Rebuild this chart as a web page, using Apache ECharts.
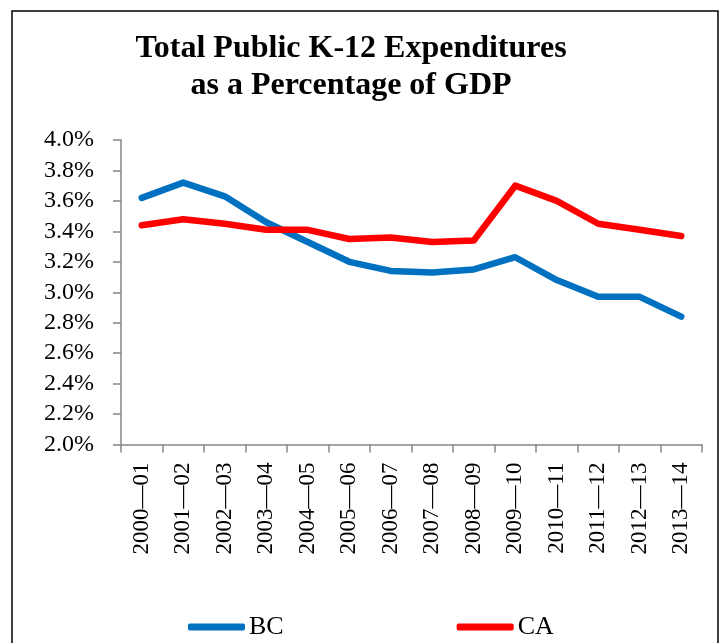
<!DOCTYPE html>
<html>
<head>
<meta charset="utf-8">
<script src="https://cdn.jsdelivr.net/npm/echarts@6/dist/echarts.min.js"></script>
<style>
  html, body { margin: 0; padding: 0; background: #fff; }
  #chart { width: 723px; height: 643px; }
</style>
</head>
<body>
<div id="chart"></div>
<script>
// School years on the horizontal axis
const years = ['2000—01', '2001—02', '2002—03', '2003—04', '2004—05', '2005—06', '2006—07',
               '2007—08', '2008—09', '2009—10', '2010—11', '2011—12', '2012—13', '2013—14'];

// K-12 spending, percent of GDP
const bcValues = [3.62, 3.72, 3.63, 3.46, 3.33, 3.20, 3.14, 3.13, 3.15, 3.23, 3.08, 2.97, 2.97, 2.84];
const caValues = [3.44, 3.48, 3.45, 3.41, 3.41, 3.35, 3.36, 3.33, 3.34, 3.70, 3.60, 3.45, 3.41, 3.37];

const seriesNames = ['BC', 'CA'];
const titleText = 'Total Public K-12 Expenditures\nas a Percentage of GDP';

const serif = '"Liberation Serif", "Times New Roman", serif';
const axisGray = '#868686';

const chart = echarts.init(document.getElementById('chart'), null, { renderer: 'canvas' });

chart.setOption({
  backgroundColor: '#ffffff',
  animation: false,
  graphic: [{
    type: 'rect',
    shape: { x: 12, y: 11, width: 706, height: 700 },
    style: { fill: 'none', stroke: '#000', lineWidth: 1.5 },
    silent: true
  }],
  title: {
    text: titleText,
    left: 346,
    textAlign: 'center',
    top: 25,
    textStyle: {
      fontFamily: serif,
      fontWeight: 'bold',
      fontSize: 32,
      lineHeight: 37,
      color: '#000'
    }
  },
  legend: {
    data: seriesNames,
    left: 188,
    top: 614,
    padding: 0,
    itemWidth: 57,
    itemHeight: 7,
    itemGap: 173,
    icon: 'roundRect',
    textStyle: { fontFamily: serif, fontSize: 26, color: '#000', padding: [0, 0, 0, -1] }
  },
  grid: { left: 121, right: 21, top: 140, bottom: 198.5, containLabel: false },
  xAxis: {
    type: 'category',
    data: years,
    boundaryGap: true,
    axisLine: { lineStyle: { color: axisGray, width: 1.5 } },
    axisTick: { show: true, length: 8, alignWithLabel: false, lineStyle: { color: axisGray, width: 1.5 } },
    axisLabel: {
      rotate: 90,
      margin: 18,
      interval: 0,
      fontFamily: serif,
      fontSize: 23,
      color: '#000'
    },
    splitLine: { show: false }
  },
  yAxis: {
    type: 'value',
    min: 2.0,
    max: 4.0,
    interval: 0.2,
    axisLine: { show: true, lineStyle: { color: axisGray, width: 1.5 } },
    axisTick: { show: true, length: 8, lineStyle: { color: axisGray, width: 1.5 } },
    axisLabel: {
      margin: 27,
      fontFamily: serif,
      fontSize: 24,
      color: '#000',
      formatter: v => v.toFixed(1) + '%'
    },
    splitLine: { show: false }
  },
  series: [
    {
      name: seriesNames[0],
      type: 'line',
      data: bcValues,
      symbol: 'none',
      color: '#0070C0',
      lineStyle: { width: 6.5, color: '#0070C0', cap: 'round', join: 'round' }
    },
    {
      name: seriesNames[1],
      type: 'line',
      data: caValues,
      symbol: 'none',
      color: '#FF0000',
      lineStyle: { width: 6.5, color: '#FF0000', cap: 'round', join: 'round' }
    }
  ]
});
</script>
</body>
</html>
